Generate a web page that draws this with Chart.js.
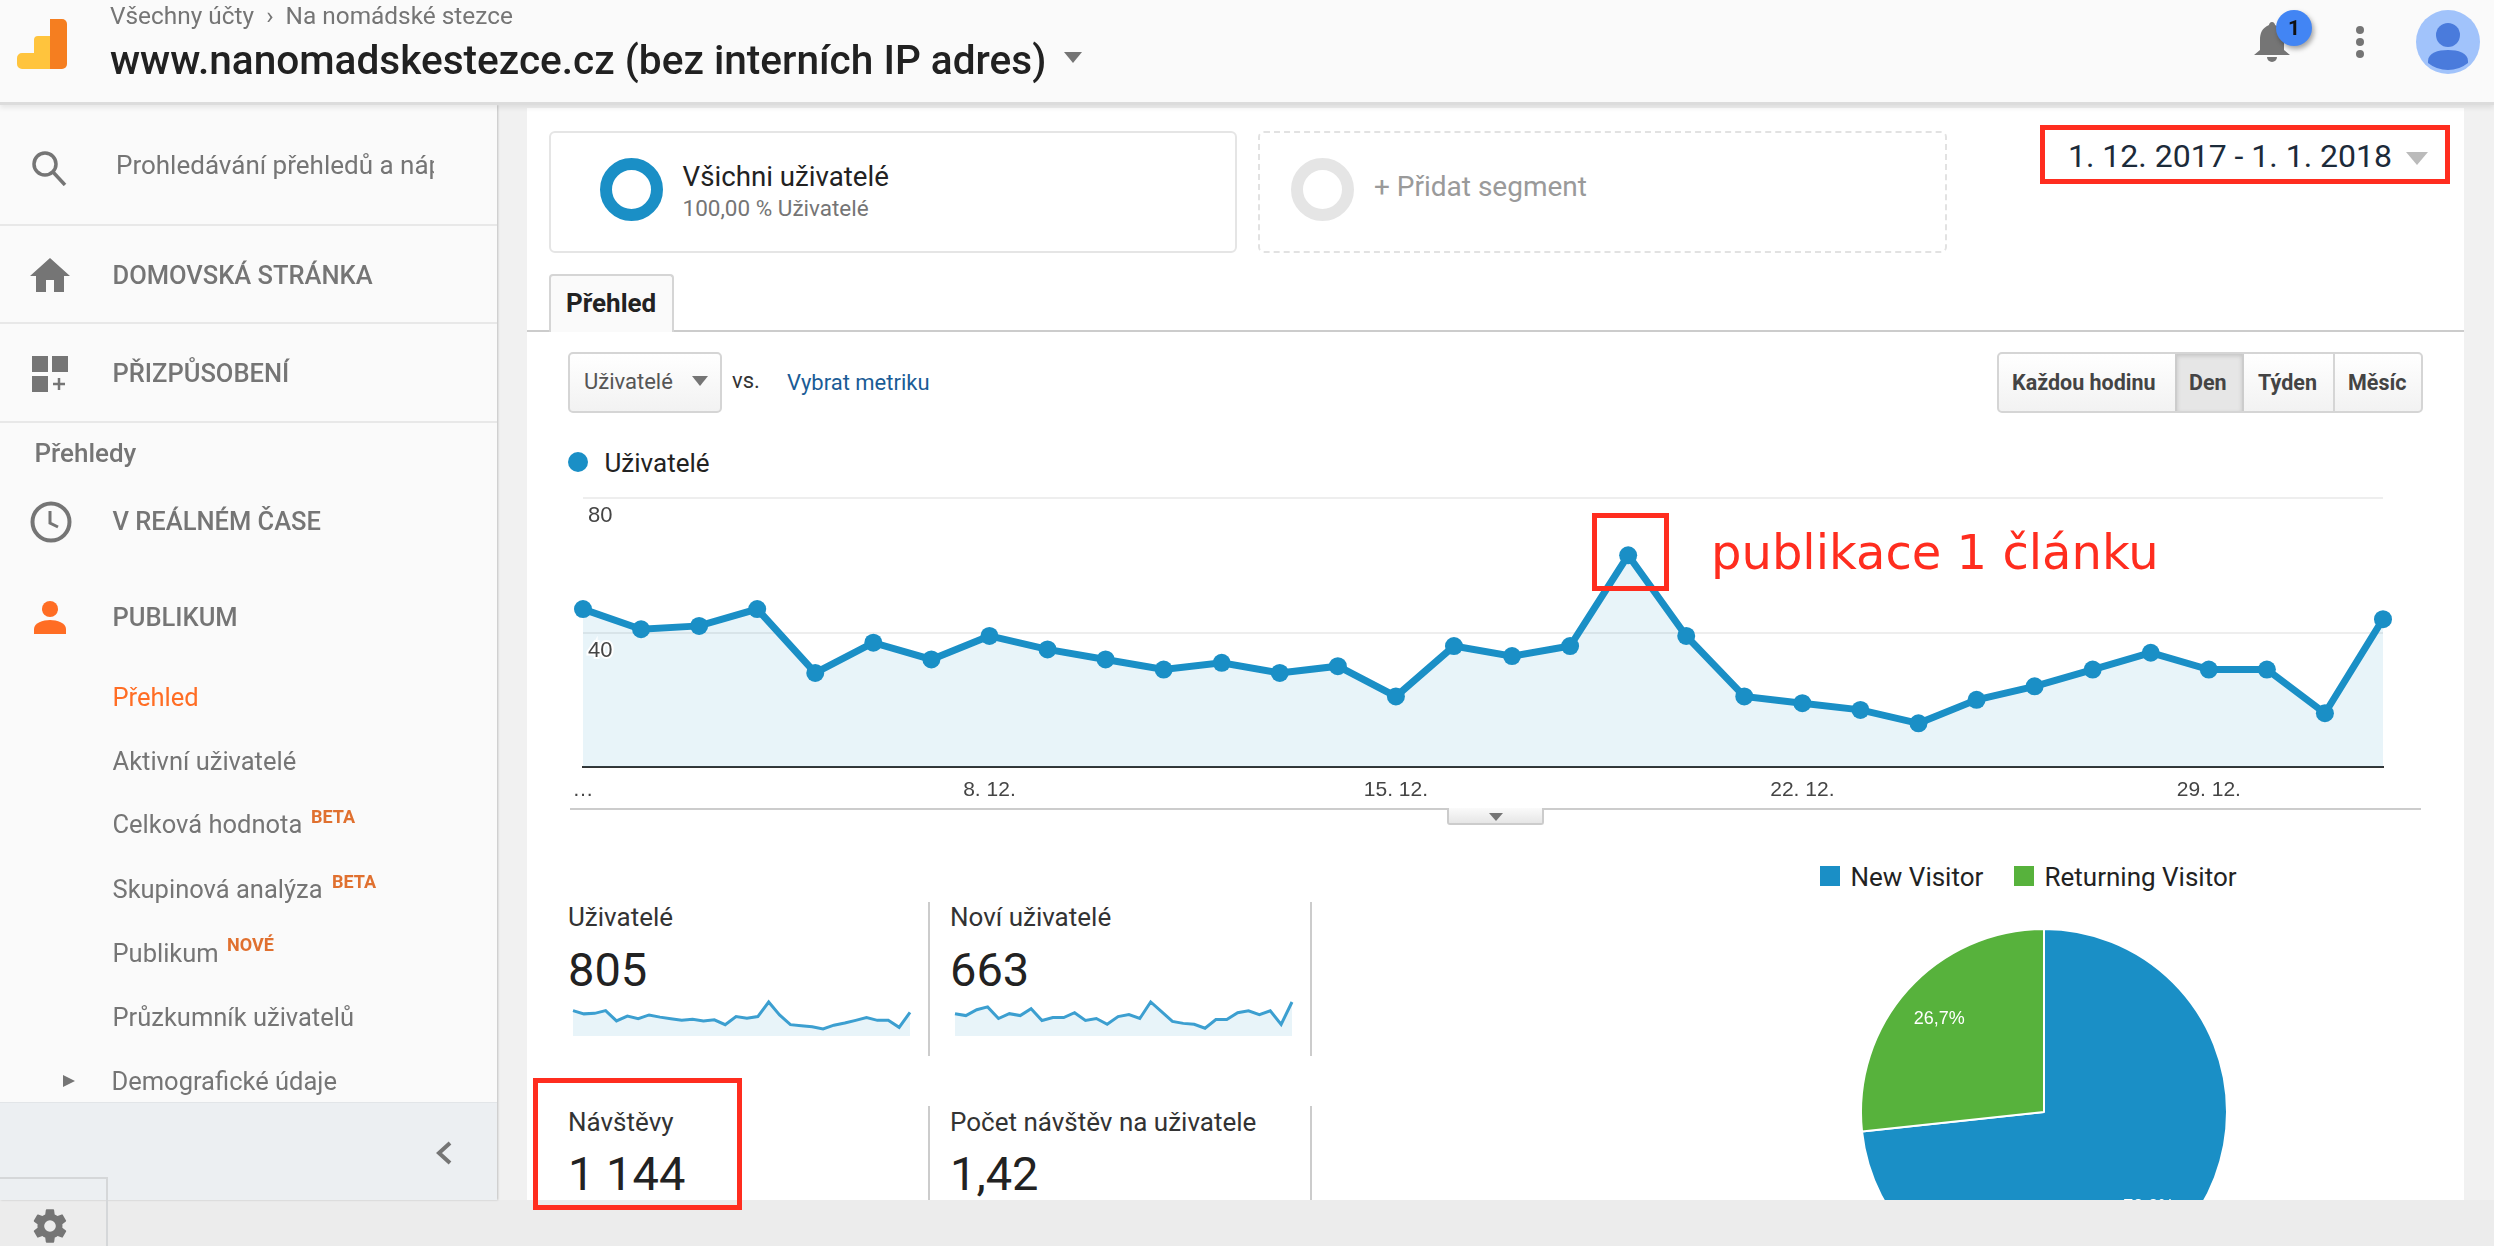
<!DOCTYPE html>
<html lang="cs">
<head>
<meta charset="utf-8">
<title>Přehled publika</title>
<script src="https://cdn.jsdelivr.net/npm/chart.js@4"></script>
<style>
html, body { margin: 0; padding: 0; width: 2494px; height: 1246px; overflow: hidden; background: #f1f1f1; font-family: Roboto, sans-serif; }
.box { position: absolute; box-sizing: border-box; }
.t { position: absolute; white-space: nowrap; line-height: 1; transform: translateY(-50%); }
canvas { position: absolute; }

#header { left: 0; top: 0; width: 2494px; height: 105px; background: #fafafa; border-bottom: 3px solid #dcdcdc; box-shadow: 0 3px 5px rgba(0,0,0,.08); z-index: 5; }
#sidebar { left: 0; top: 105px; width: 497px; height: 1095px; background: #fafafa; box-shadow: 1px 0 2px rgba(0,0,0,.2); z-index: 4; }
#main { left: 527px; top: 108px; width: 1937px; height: 1100px; background: #fff; }
#footer { left: 0; top: 1200px; width: 2494px; height: 46px; background: #ececec; z-index: 3; }

.nav { font-size: 25.5px; font-weight: 500; color: #757575; left: 112.5px; z-index: 5; }
.sub { font-size: 25.5px; color: #757575; left: 112.5px; z-index: 5; }
.tag { font-size: 18px; font-weight: 700; color: #e0702f; z-index: 5; }
.divider { left: 0; width: 497px; height: 2px; background: #e8e8e8; z-index: 5; }
.icon { position: absolute; z-index: 5; }

.ring { border-radius: 50%; width: 63px; height: 63px; border: 12px solid #1a8fc6; }
.card { border-radius: 6px; height: 122px; top: 131px; }
.red { border: 5px solid #ff2d1f; z-index: 6; }
.metric-name { font-size: 26px; color: #333; }
.metric-value { font-size: 47px; color: #222; }
.vsep { width: 2px; background: #ccc; }
.btn { font-size: 21.5px; font-weight: 700; color: #444; z-index: 2; }
.sq { width: 20px; height: 20px; top: 866px; }
.legend { font-size: 26px; color: #222; }
.spark { filter: blur(0.6px); }
.tri { position: absolute; width: 0; height: 0; border-left: 9px solid transparent; border-right: 9px solid transparent; border-top: 11px solid #757575; }
</style>
</head>
<body>

<div class="box" id="main"></div>
<div class="box" id="footer"></div>

<!-- horni lista -->
<div class="box" id="header"></div>
<svg class="icon" style="left:17px;top:19px;z-index:6" width="50" height="50" viewBox="0 0 50 50">
  <path d="M33 0h12a5 5 0 0 1 5 5v40a5 5 0 0 1-5 5H33z" fill="#f57e20"/>
  <path d="M33 17H21a4 4 0 0 0-4 4v13H5a5 5 0 0 0-5 5v6a5 5 0 0 0 5 5h28z" fill="#ffc43d"/>
</svg>
<div class="t" style="left:110px;top:16px;font-size:24.4px;color:#757575;z-index:6">Všechny účty &nbsp;›&nbsp; Na nomádské stezce</div>
<div class="t" style="left:110px;top:60px;font-size:40.6px;font-weight:500;color:#212121;z-index:6">www.nanomadskestezce.cz (bez interních IP adres)</div>
<div class="tri" style="left:1064px;top:52px;z-index:6"></div>
<svg class="icon" style="left:2254px;top:22px;z-index:6" width="36" height="42" viewBox="0 0 36 42">
  <path d="M18 0c-2 0-3 2-3 3C8 6 6 11 6 18v10L0 33h36l-6-5V18c0-7-2-12-9-15 0-1-1-3-3-3z" fill="#757575"/>
  <path d="M13 35h10a5 5 0 0 1-10 0z" fill="#757575"/>
</svg>
<div class="box" style="left:2276px;top:10px;width:36px;height:36px;border-radius:50%;background:#4285f4;box-shadow:2px 3px 5px rgba(0,0,0,.35);z-index:6"></div>
<div class="t" style="left:2288px;top:28px;font-size:21px;font-weight:700;color:#111;z-index:7">1</div>
<svg class="icon" style="left:2356px;top:25px;z-index:6" width="8" height="34"><circle cx="4" cy="5" r="4" fill="#757575"/><circle cx="4" cy="17" r="4" fill="#757575"/><circle cx="4" cy="29" r="4" fill="#757575"/></svg>
<svg class="icon" style="left:2416px;top:10px;z-index:6" width="64" height="64" viewBox="0 0 64 64">
  <circle cx="32" cy="32" r="32" fill="#a1c3fb"/><circle cx="32" cy="25" r="12" fill="#4a7bdc"/>
  <path d="M12 51c0-8 10-11 20-11s20 3 20 11v2a32 32 0 0 1-40 0z" fill="#4a7bdc"/>
</svg>

<!-- bocni panel -->
<div class="box" id="sidebar"></div>
<svg class="icon" style="left:31px;top:150px" width="36" height="36" viewBox="0 0 36 36" fill="none" stroke="#757575" stroke-width="3.5"><circle cx="14" cy="14" r="11"/><path d="M22 22l12 13"/></svg>
<div class="t" style="left:116px;top:165px;width:318px;overflow:hidden;font-size:26px;color:#757575;z-index:5;line-height:32px">Prohledávání přehledů a nápovědy</div>
<div class="box divider" style="top:224px"></div>
<svg class="icon" style="left:30px;top:258px" width="40" height="34" viewBox="0 0 40 34"><path d="M20 0L0 18h6v16h10V22h8v12h10V18h6z" fill="#757575"/></svg>
<div class="t nav" style="top:276px">DOMOVSKÁ STRÁNKA</div>
<div class="box divider" style="top:322px"></div>
<svg class="icon" style="left:32px;top:356px" width="38" height="36"><rect width="16" height="16" fill="#757575"/><rect x="20" width="16" height="16" fill="#757575"/><rect y="20" width="16" height="16" fill="#757575"/><path d="M27 22v12M21 28h12" stroke="#757575" stroke-width="2.5"/></svg>
<div class="t nav" style="top:374px">PŘIZPŮSOBENÍ</div>
<div class="box divider" style="top:421px"></div>
<div class="t" style="left:34.5px;top:453px;font-size:26px;font-weight:500;color:#757575;z-index:5">Přehledy</div>
<svg class="icon" style="left:30px;top:501px" width="42" height="42" viewBox="0 0 42 42" fill="none" stroke="#757575" stroke-width="4"><circle cx="21" cy="21" r="18.5"/><path d="M20 10v12l8 4" stroke-width="3"/></svg>
<div class="t nav" style="top:522px">V REÁLNÉM ČASE</div>
<svg class="icon" style="left:34px;top:601px" width="32" height="33" viewBox="0 0 32 33"><circle cx="16" cy="8" r="8" fill="#ff6d24"/><path d="M0 33v-5c0-6 9-9 16-9s16 3 16 9v5z" fill="#ff6d24"/></svg>
<div class="t nav" style="top:618px">PUBLIKUM</div>
<div class="t sub" style="top:698px;color:#ff6d24">Přehled</div>
<div class="t sub" style="top:762px">Aktivní uživatelé</div>
<div class="t sub" style="top:825px">Celková hodnota</div>
<div class="t tag" style="left:311px;top:817px">BETA</div>
<div class="t sub" style="top:890px">Skupinová analýza</div>
<div class="t tag" style="left:332px;top:882px">BETA</div>
<div class="t sub" style="top:954px">Publikum</div>
<div class="t tag" style="left:227px;top:945px">NOVÉ</div>
<div class="t sub" style="top:1018px">Průzkumník uživatelů</div>
<div class="t sub" style="top:1082px;left:111.5px">Demografické údaje</div>
<svg class="icon" style="left:63px;top:1075px" width="12" height="12"><path d="M0 0l12 6-12 6z" fill="#757575"/></svg>
<div class="box" style="left:0;top:1102px;width:497px;height:98px;background:#eceff2;border-top:1px solid #e2e5e8;z-index:5"></div>
<svg class="icon" style="left:436px;top:1141px;z-index:6" width="16" height="24" fill="none" stroke="#757575" stroke-width="4"><path d="M14 2L3 12l11 10"/></svg>
<div class="box" style="left:0;top:1177px;width:108px;height:69px;border:2px solid #d5d7d9;border-left:none;border-bottom:none;z-index:6"></div>
<svg class="icon" style="left:30px;top:1206px;z-index:7" width="40" height="40" viewBox="0 0 24 24"><path fill="#757575" d="M19.4 13c.04-.3.06-.66.06-1s-.02-.7-.06-1l2.1-1.65a.5.5 0 0 0 .12-.64l-2-3.46a.5.5 0 0 0-.6-.22l-2.5 1a7.3 7.3 0 0 0-1.7-1l-.37-2.65A.5.5 0 0 0 14 2h-4a.5.5 0 0 0-.5.42L9.13 5.07a7.7 7.7 0 0 0-1.7 1l-2.5-1a.5.5 0 0 0-.6.22l-2 3.46a.5.5 0 0 0 .12.64L4.55 11a7.9 7.9 0 0 0 0 2l-2.1 1.65a.5.5 0 0 0-.12.64l2 3.46c.12.22.38.3.6.22l2.5-1c.52.4 1.1.73 1.7 1l.37 2.65c.05.24.26.42.5.42h4c.25 0 .46-.18.5-.42l.37-2.65a7.7 7.7 0 0 0 1.7-1l2.5 1c.22.08.48 0 .6-.22l2-3.46a.5.5 0 0 0-.12-.64zM12 15.5a3.5 3.5 0 1 1 0-7 3.5 3.5 0 0 1 0 7z"/></svg>

<!-- segmenty -->
<div class="box card" style="left:549px;width:688px;border:2px solid #e5e5e5"></div>
<div class="box ring" style="left:600px;top:158px"></div>
<div class="t" style="left:682.5px;top:177px;font-size:27.7px;color:#222">Všichni uživatelé</div>
<div class="t" style="left:682.5px;top:208px;font-size:22.5px;color:#757575">100,00 % Uživatelé</div>
<div class="box card" style="left:1258px;width:689px;border:2px dashed #e2e2e2"></div>
<div class="box ring" style="left:1291px;top:158px;border-color:#e5e5e5"></div>
<div class="t" style="left:1374px;top:187px;font-size:28px;color:#9a9a9a">+ Přidat segment</div>

<!-- datum -->
<div class="box red" style="left:2040px;top:125px;width:410px;height:59px"></div>
<div class="t" style="left:2068px;top:156px;font-size:32px;color:#1c2b3a;z-index:6">1. 12. 2017 - 1. 1. 2018</div>
<div class="tri" style="left:2406px;top:152px;border-left-width:11px;border-right-width:11px;border-top:13px solid #bbb"></div>

<!-- zalozka -->
<div class="box" style="left:549px;top:274px;width:125px;height:58px;background:#fafafa;border:2px solid #d5d5d5;border-bottom:none;border-radius:4px 4px 0 0"></div>
<div class="t" style="left:566px;top:303px;font-size:26px;font-weight:700;color:#222">Přehled</div>
<div class="box" style="left:527px;top:330px;width:22px;height:2px;background:#ccc"></div>
<div class="box" style="left:674px;top:330px;width:1790px;height:2px;background:#ccc"></div>

<!-- ovladani grafu -->
<div class="box" style="left:568px;top:352px;width:154px;height:61px;background:linear-gradient(#fff,#f2f2f2);border:2px solid #d5d5d5;border-radius:5px"></div>
<div class="t" style="left:584px;top:382px;font-size:22px;color:#555">Uživatelé</div>
<div class="tri" style="left:692px;top:376px;border-left-width:8px;border-right-width:8px;border-top-width:10px"></div>
<div class="t" style="left:732px;top:381px;font-size:22px;color:#333">vs.</div>
<div class="t" style="left:787px;top:383px;font-size:22px;color:#1a5c96">Vybrat metriku</div>

<div class="box" style="left:1997px;top:352px;width:426px;height:61px;background:linear-gradient(#fff,#f2f2f2);border:2px solid #d5d5d5;border-radius:5px"></div>
<div class="box" style="left:2175px;top:354px;width:69px;height:57px;background:#e6e6e6;box-shadow:inset 0 2px 4px rgba(0,0,0,.15);border-left:2px solid #ccc;border-right:2px solid #ccc"></div>
<div class="box" style="left:2333px;top:354px;width:2px;height:57px;background:#d5d5d5"></div>
<div class="t btn" style="left:2012px;top:383px">Každou hodinu</div>
<div class="t btn" style="left:2189px;top:383px">Den</div>
<div class="t btn" style="left:2258px;top:383px">Týden</div>
<div class="t btn" style="left:2348px;top:383px">Měsíc</div>

<!-- hlavni graf -->
<div class="box" style="left:568px;top:452px;width:20px;height:20px;border-radius:50%;background:#1a8fc6"></div>
<div class="t" id="mainLegend" style="left:604.5px;top:463px;font-size:26px;color:#222"></div>
<canvas id="usersChart" style="left:560px;top:480px;width:1850px;height:340px"></canvas>
<div class="box" style="left:570px;top:808px;width:1851px;height:2px;background:#ccc"></div>
<div class="box" style="left:1447px;top:808px;width:97px;height:17px;background:linear-gradient(#fafafa,#e6e6e6);border:2px solid #ccc;border-top:none;border-radius:0 0 3px 3px"></div>
<div class="tri" style="left:1489px;top:813px;border-left-width:7px;border-right-width:7px;border-top-width:8px"></div>

<!-- popisek spicky -->
<div class="box red" style="left:1592px;top:513px;width:77px;height:78px"></div>
<div class="t" style="left:1711px;top:552px;font-family:'DejaVu Sans';font-size:48px;color:#ff2d1f;z-index:6">publikace 1 článku</div>

<!-- metriky -->
<div class="t metric-name" style="left:568px;top:917px">Uživatelé</div>
<div class="t metric-value" style="left:568px;top:969px">805</div>
<canvas id="sparkUsers" class="spark" style="left:565px;top:995px;width:352px;height:42px"></canvas>
<div class="box vsep" style="left:928px;top:902px;height:154px"></div>
<div class="t metric-name" style="left:950px;top:917px">Noví uživatelé</div>
<div class="t metric-value" style="left:950px;top:969px">663</div>
<canvas id="sparkNew" class="spark" style="left:947px;top:995px;width:352px;height:42px"></canvas>
<div class="box vsep" style="left:1310px;top:902px;height:154px"></div>

<div class="t metric-name" style="left:568px;top:1122px">Návštěvy</div>
<div class="t metric-value" style="left:568px;top:1173px">1 144</div>
<div class="box vsep" style="left:928px;top:1106px;height:94px"></div>
<div class="t metric-name" style="left:950px;top:1122px">Počet návštěv na uživatele</div>
<div class="t metric-value" style="left:950px;top:1173px">1,42</div>
<div class="box vsep" style="left:1310px;top:1106px;height:94px"></div>
<div class="box red" style="left:533px;top:1078px;width:209px;height:132px"></div>

<!-- kolac -->
<div class="box sq" style="left:1820px;background:#1a8fc6"></div>
<div class="t legend" id="pieLegendNew" style="left:1850.5px;top:877px"></div>
<div class="box sq" style="left:2014px;background:#57b23c"></div>
<div class="t legend" id="pieLegendBack" style="left:2044.5px;top:877px"></div>
<canvas id="visitorPie" style="left:1844px;top:912px;width:400px;height:400px"></canvas>

<script>
// data
const seriesName = 'Uživatelé';
const days = ['…', '2. 12.', '3. 12.', '4. 12.', '5. 12.', '6. 12.', '7. 12.', '8. 12.', '9. 12.', '10. 12.', '11. 12.',
    '12. 12.', '13. 12.', '14. 12.', '15. 12.', '16. 12.', '17. 12.', '18. 12.', '19. 12.', '20. 12.', '21. 12.',
    '22. 12.', '23. 12.', '24. 12.', '25. 12.', '26. 12.', '27. 12.', '28. 12.', '29. 12.', '30. 12.', '31. 12.', '1. 1.'];
const usersValues = [47, 41, 42, 47, 28, 37, 32, 39, 35, 32, 29, 31, 28, 30, 21, 36,
    33, 36, 63, 39, 21, 19, 17, 13, 20, 24, 29, 34, 29, 29, 16, 44];
const newUsersValues = [23, 21, 27, 30, 18, 23, 21, 28, 16, 19, 19, 24, 16, 18, 12, 20,
    22, 18, 35, 25, 15, 13, 12, 8, 17, 17, 24, 26, 22, 26, 12, 35];
const xTickLabels = ['…', '8. 12.', '15. 12.', '22. 12.', '29. 12.'];
const yTickValues = [0, 40, 80];
const visitorLabels = ['New Visitor', 'Returning Visitor'];
const visitorValues = [73.3, 26.7];

const BLUE = '#1a8fc6';
const BLUE_FILL = 'rgba(25, 143, 199, 0.1)';
const GREEN = '#57b23c';
const CHART_FONT = 'Liberation Sans';

Chart.defaults.animation = false;
Chart.defaults.responsive = false;
Chart.defaults.plugins.legend.display = false;
Chart.defaults.plugins.tooltip.enabled = false;

document.getElementById('mainLegend').textContent = seriesName;
document.getElementById('pieLegendNew').textContent = visitorLabels[0];
document.getElementById('pieLegendBack').textContent = visitorLabels[1];

// --- main line chart
new Chart(document.getElementById('usersChart'), {
    type: 'line',
    data: {
        labels: days,
        datasets: [{
            label: seriesName,
            data: usersValues,
            borderColor: BLUE,
            backgroundColor: BLUE_FILL,
            borderWidth: 7,
            pointRadius: 9,
            pointBackgroundColor: BLUE,
            pointBorderWidth: 0,
            tension: 0,
            fill: 'origin',
            clip: false
        }]
    },
    options: {
        devicePixelRatio: 1,
        layout: { autoPadding: false, padding: { left: 13, right: 27, top: 17, bottom: 0 } },
        scales: {
            x: {
                afterFit: function(scale) { scale.height = 53; },
                grid: { display: false },
                border: { color: '#333', width: 2 },
                ticks: {
                    autoSkip: false,
                    maxRotation: 0,
                    padding: 3,
                    color: '#444',
                    font: { family: CHART_FONT, size: 21 },
                    callback: function(value) {
                        const label = this.getLabelForValue(value);
                        return xTickLabels.includes(label) ? label : '';
                    }
                }
            },
            y: {
                min: yTickValues[0],
                max: yTickValues[2],
                afterBuildTicks: function(scale) { scale.ticks = yTickValues.map(v => ({ value: v })); },
                grid: { color: '#eeeeee', lineWidth: 2, drawTicks: false },
                border: { display: false },
                ticks: {
                    mirror: true,
                    padding: 5,
                    labelOffset: 18,
                    z: 1,
                    color: '#444',
                    textStrokeColor: '#fff',
                    textStrokeWidth: 4,
                    font: { family: CHART_FONT, size: 22 },
                    callback: function(value) { return value === 0 ? '' : value; }
                }
            }
        }
    }
});

// --- sparklines under the metric names
function sparkline(id, values) {
    new Chart(document.getElementById(id), {
        type: 'line',
        data: {
            labels: days,
            datasets: [{
                data: values,
                borderColor: '#3c9fd0',
                backgroundColor: BLUE_FILL,
                borderWidth: 3,
                pointRadius: 0,
                tension: 0,
                fill: 'origin',
                clip: false
            }]
        },
        options: {
            devicePixelRatio: 1,
            layout: { autoPadding: false, padding: { left: 8, right: 7, top: 7, bottom: 1 } },
            scales: {
                x: { display: false },
                y: { display: false, min: 0, max: Math.max(...values) }
            }
        }
    });
}
sparkline('sparkUsers', usersValues);
sparkline('sparkNew', newUsersValues);

// --- pie, percent labels drawn the way the GA pie places them
const sliceLabels = {
    id: 'sliceLabels',
    afterDatasetsDraw(chart) {
        const ctx = chart.ctx;
        ctx.save();
        ctx.fillStyle = '#fff';
        ctx.font = '18px "' + CHART_FONT + '"';
        ctx.textAlign = 'center';
        ctx.textBaseline = 'middle';
        chart.getDatasetMeta(0).data.forEach(function(arc, i) {
            const mid = (arc.startAngle + arc.endAngle) / 2;
            const x = arc.x + Math.cos(mid) * arc.outerRadius * 0.77;
            const y = arc.y + Math.sin(mid) * arc.outerRadius * 0.77 + 1;
            ctx.fillText(visitorValues[i].toFixed(1).replace('.', ',') + '%', x, y);
        });
        ctx.restore();
    }
};

new Chart(document.getElementById('visitorPie'), {
    type: 'pie',
    data: {
        labels: visitorLabels,
        datasets: [{
            data: visitorValues,
            backgroundColor: [BLUE, GREEN],
            borderColor: '#fff',
            borderWidth: 2,
            radius: 183,
            hoverOffset: 0
        }]
    },
    options: { devicePixelRatio: 1 },
    plugins: [sliceLabels]
});
</script>
</body>
</html>
